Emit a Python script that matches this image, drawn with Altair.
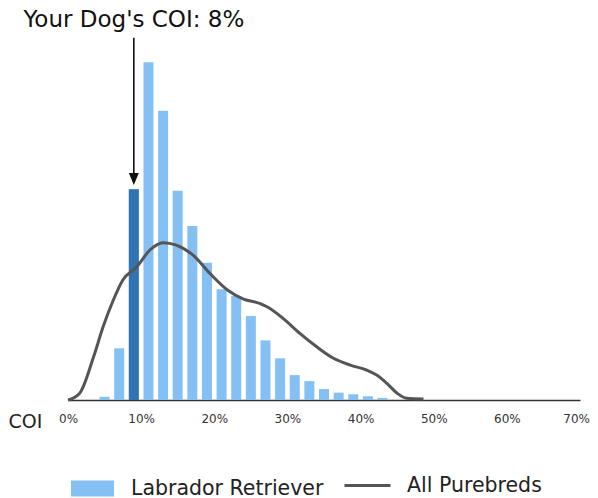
import altair as alt
import pandas as pd

# ---- data ----
bin_centers = [5, 7, 9, 11, 13, 15, 17, 19, 21, 23, 25, 27, 29, 31, 33, 35, 37, 39, 41, 43]
lab_share = [0.17, 2.74, 11.17, 17.9, 15.33, 11.09, 9.22, 7.28, 5.87, 5.51, 4.45,
             3.16, 2.21, 1.32, 1.0, 0.58, 0.39, 0.30, 0.2, 0.11]

curve_coi = [0.0, 1.6, 3.5, 4.8, 6.2, 7.5, 9.4, 11.2, 13.0, 14.8, 17.1, 19.4, 21.8,
             24.0, 26.2, 27.2, 29.4, 31.7, 34.0, 36.3, 38.6, 40.8, 42.2, 43.6, 45.0,
             46.3, 48.6]
curve_density = [0.0, 0.36, 2.29, 3.88, 5.30, 6.36, 7.06, 7.95, 8.34, 8.21, 7.68, 6.71,
                 5.83, 5.35, 5.12, 4.94, 4.33, 3.53, 2.82, 2.21, 1.85, 1.59, 1.32, 0.88,
                 0.36, 0.09, 0.05]

dog_coi_label = "Your Dog's COI: 8%"
dog_bin_center = 9
x_ticks = [0, 10, 20, 30, 40, 50, 60, 70]

LIGHT = "#85C0F4"
DARK = "#3174B2"
GRAY = "#555555"
FONT = "DejaVu Sans"

bars_df = pd.DataFrame({"coi": bin_centers, "share": lab_share,
                        "series": "Labrador Retriever"})
dog_df = bars_df[bars_df["coi"] == dog_bin_center]
curve_df = pd.DataFrame({"coi": curve_coi, "density": curve_density,
                         "series": "All Purebreds"})

dog_val = float(dog_df["share"].iloc[0])
arrow_df = pd.DataFrame({"coi": [dog_bin_center], "top": [19.2],
                         "bottom": [dog_val + 0.75], "head": [dog_val + 0.54],
                         "text_y": [19.75], "label": [dog_coi_label]})

xscale = alt.Scale(domain=[0, 70], nice=False, zero=False, padding=0)
yscale = alt.Scale(domain=[0, 19.08], nice=False, padding=0)

x_axis = alt.Axis(values=x_ticks, labelExpr="datum.value + '%'", ticks=False, grid=False,
                  labelFlush=True, labelFlushOffset=9.5, labelOverlap=False,
                  domainColor="#333333", domainWidth=1.5, labelFontSize=12,
                  labelColor="#333333", labelPadding=13, labelFont=FONT,
                  title="COI", titleFontSize=19, titleFont=FONT, titleFontWeight="normal",
                  titleColor="#222222", titleAnchor="start", titleAlign="left",
                  titleBaseline="alphabetic", titleX=-60, titleY=27)

bars = alt.Chart(bars_df).mark_bar(size=10).encode(
    x=alt.X("coi:Q", scale=xscale, axis=x_axis),
    y=alt.Y("share:Q", scale=yscale, axis=None),
    fill=alt.Fill("series:N",
                  scale=alt.Scale(domain=["Labrador Retriever"], range=[LIGHT]),
                  legend=alt.Legend(title=None, orient="none", legendX=3, legendY=427,
                                    symbolType="M-1,-0.372L1,-0.372L1,0.372L-1,0.372Z",
                                    symbolSize=1849, symbolStrokeWidth=0,
                                    labelFontSize=20.5, labelFont=FONT, labelLimit=0,
                                    labelColor="#222222", labelOffset=17, padding=0)),
)

dog_bar = alt.Chart(dog_df).mark_bar(size=10, color=DARK).encode(
    x=alt.X("coi:Q", scale=xscale),
    y=alt.Y("share:Q", scale=yscale),
)

curve = alt.Chart(curve_df).mark_line(interpolate="monotone", strokeWidth=3).encode(
    x=alt.X("coi:Q", scale=xscale),
    y=alt.Y("density:Q", scale=yscale),
    stroke=alt.Stroke("series:N",
                      scale=alt.Scale(domain=["All Purebreds"], range=[GRAY]),
                      legend=alt.Legend(title=None, orient="none", legendX=275, legendY=421,
                                        symbolType="stroke", symbolSize=2116,
                                        symbolStrokeWidth=3, labelFontSize=20.5,
                                        labelFont=FONT, labelColor="#222222", labelLimit=0,
                                        labelOffset=15, padding=0)),
)

arrow_line = alt.Chart(arrow_df).mark_rule(color="#111111", strokeWidth=1.6).encode(
    x=alt.X("coi:Q", scale=xscale),
    y=alt.Y("top:Q", scale=yscale),
    y2="bottom:Q",
)

arrow_head = alt.Chart(arrow_df).mark_point(
    shape="M-1,-1.2L1,-1.2L0,1.2Z", size=100, filled=True, color="#111111", opacity=1
).encode(
    x=alt.X("coi:Q", scale=xscale),
    y=alt.Y("head:Q", scale=yscale),
)

title_text = alt.Chart(arrow_df).mark_text(
    fontSize=23, font=FONT, align="center", baseline="alphabetic", color="#111111"
).encode(
    x=alt.X("coi:Q", scale=xscale),
    y=alt.Y("text_y:Q", scale=yscale),
    text="label:N",
)

chart = alt.layer(bars, dog_bar, curve, arrow_line, arrow_head, title_text).properties(
    width=512, height=360,
    autosize=alt.AutoSizeParams(type="none"),
    padding={"left": 60, "top": 32, "right": 10, "bottom": 100},
).configure(font=FONT).configure_view(strokeWidth=0, stroke="transparent")

chart.save("out.html", embed_options={"renderer": "svg", "actions": False})
